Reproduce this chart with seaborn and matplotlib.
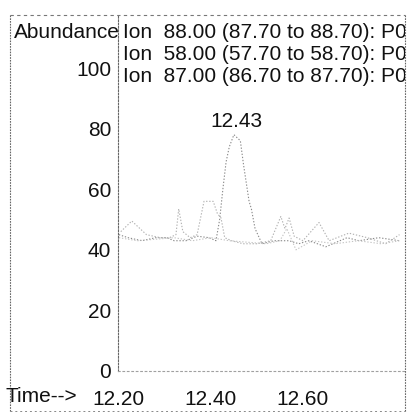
import numpy as np
import pandas as pd
import seaborn as sns
import matplotlib
matplotlib.use("Agg")
import matplotlib.pyplot as plt
import matplotlib.transforms as mtransforms
from matplotlib.lines import Line2D

# Extracted ion chromatogram traces (retention time in min, abundance)
ion88_time = [12.180, 12.200, 12.230, 12.260, 12.284, 12.300, 12.326, 12.350, 12.376,
              12.391, 12.399, 12.406, 12.413, 12.420, 12.430, 12.444, 12.451, 12.457,
              12.463, 12.468, 12.476, 12.491, 12.517, 12.550, 12.571, 12.593, 12.630,
              12.676, 12.702, 12.745, 12.790]
ion88_abund = [45, 44, 43, 44, 44, 43, 43, 44.5, 44,
               43, 50, 60, 69, 74, 78, 76, 68, 62,
               56, 53.5, 47, 42, 43, 43, 42, 43, 41,
               44, 43, 44, 43]

ion58_time = [12.184, 12.208, 12.240, 12.270, 12.290, 12.304, 12.310, 12.319, 12.335,
              12.350, 12.365, 12.376, 12.385, 12.394, 12.402, 12.410, 12.425, 12.450,
              12.480, 12.510, 12.532, 12.541, 12.550, 12.561, 12.580, 12.615, 12.637,
              12.680, 12.720, 12.760, 12.790]
ion58_abund = [46, 49.5, 45, 44, 44, 45, 53.5, 46, 44,
               45, 56, 56, 56, 52, 50.5, 44, 43, 42,
               42, 43, 51, 47, 50.5, 44.5, 43, 49, 43,
               45.5, 44, 42, 45]

ion87_time = [12.180, 12.220, 12.260, 12.300, 12.340, 12.380, 12.420, 12.460, 12.500,
              12.530, 12.545, 12.565, 12.600, 12.650, 12.700, 12.750, 12.790]
ion87_abund = [44, 43, 43.5, 44, 43, 44, 43, 42.5, 42,
               43, 47, 40, 43, 42, 43, 42, 43]

ion_labels = ["Ion  88.00 (87.70 to 88.70): P0",
              "Ion  58.00 (57.70 to 58.70): P0",
              "Ion  87.00 (86.70 to 87.70): P0"]
y_ticks = [0, 20, 40, 60, 80, 100]
x_ticks = [12.20, 12.40, 12.60]
x_tick_labels = ["12.20", "12.40", "12.60"]

df = pd.concat([
    pd.DataFrame({"time": ion88_time, "abundance": ion88_abund, "ion": "88"}),
    pd.DataFrame({"time": ion58_time, "abundance": ion58_abund, "ion": "58"}),
    pd.DataFrame({"time": ion87_time, "abundance": ion87_abund, "ion": "87"}),
])

sns.set_style("white")
plt.rcParams["font.family"] = ["Liberation Sans", "DejaVu Sans"]

W, H = 417, 413
fig = plt.figure(figsize=(W / 100, H / 100), dpi=100)
ax = fig.add_axes([118 / W, 1 - 371 / H, (405 - 118) / W, (371 - 15) / H])

sns.lineplot(data=df, x="time", y="abundance", hue="ion", sort=False,
             palette={"88": "#8a8a8a", "58": "#b0b0b0", "87": "#c4c4c4"},
             linewidth=0.8, legend=False, ax=ax, estimator=None)
for ln in ax.lines:
    ln.set_linestyle((0, (1.2, 1.6)))

ax.set_xlim(12.178, 12.802)
ax.set_ylim(0, 117.5)
ax.set_xlabel("")
ax.set_ylabel("")
ax.set_yticks(y_ticks)
ax.set_yticklabels([str(v) for v in y_ticks])
ax.set_xticks(x_ticks)
ax.set_xticklabels(x_tick_labels)
ax.tick_params(axis="both", length=0, labelsize=15, colors="#111111")
ax.tick_params(axis="y", pad=5)
ax.tick_params(axis="x", pad=14)
shift = mtransforms.ScaledTranslation(-10 / 100, 0, fig.dpi_scale_trans)
for lbl in ax.get_xticklabels():
    lbl.set_transform(lbl.get_transform() + shift)

for side in ["top", "right"]:
    ax.spines[side].set_visible(False)
ax.spines["left"].set_color("#666666")
ax.spines["left"].set_linestyle((0, (1.5, 1.5)))
ax.spines["left"].set_linewidth(0.8)
ax.spines["bottom"].set_color("#a0a0a0")
ax.spines["bottom"].set_linestyle((0, (1.5, 2.5)))
ax.spines["bottom"].set_linewidth(0.8)

# Peak apex label
i_max = int(np.argmax(ion88_abund))
t_peak, a_peak = ion88_time[i_max], ion88_abund[i_max]
ax.annotate(f"{t_peak:.2f}", xy=(t_peak, a_peak), xytext=(2, 3),
            textcoords="offset points", ha="center", va="bottom",
            fontsize=15, color="#111111")

# Ion header lines, cut off at the right frame
header_clip = mtransforms.Bbox.from_extents(0, 0, 405, H)
for k, txt in enumerate(ion_labels):
    t = ax.text(123 / W, 1 - (32 + 22.5 * k) / H, txt, transform=fig.transFigure,
                ha="left", va="center", fontsize=15, color="#111111", clip_on=True)
    t.set_clip_box(mtransforms.TransformedBbox(header_clip, mtransforms.IdentityTransform()))

fig.text(14 / W, 1 - 32 / H, "Abundance", ha="left", va="center",
         fontsize=15, color="#111111")
fig.text(5 / W, 1 - 397 / H, "Time-->", ha="left", va="center",
         fontsize=15, color="#111111")

# Outer frame of the printout
def fig_line(x0, y0, x1, y1, **kw):
    fig.add_artist(Line2D([x0 / W, x1 / W], [1 - y0 / H, 1 - y1 / H],
                          transform=fig.transFigure, **kw))

fig_line(10, 15, 405, 15, color="#777777", lw=0.8, linestyle=(0, (3, 3)))
fig_line(10, 15, 10, 412, color="#666666", lw=0.8, linestyle=(0, (1.5, 1.0)))
fig_line(405, 15, 405, 412, color="#666666", lw=0.8, linestyle=(0, (1.5, 1.0)))
fig_line(10, 411, 405, 411, color="#888888", lw=0.7, linestyle=(0, (2, 3)))

fig.savefig("out.png", dpi=100)
